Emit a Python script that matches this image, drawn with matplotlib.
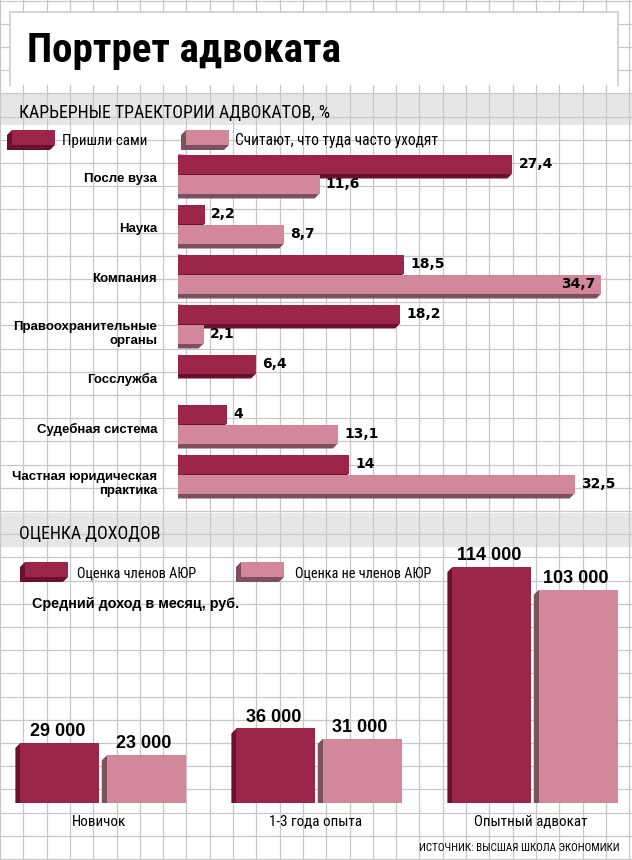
import numpy as np
import matplotlib
matplotlib.use('Agg')
import matplotlib.pyplot as plt
from matplotlib.patches import Polygon, Rectangle

# --- data ---
career_cats = ['После вуза', 'Наука', 'Компания', 'Правоохранительные\nорганы',
               'Госслужба', 'Судебная система', 'Частная юридическая\nпрактика']
came_self = [27.4, 2.2, 18.5, 18.2, 6.4, 4, 14]
often_leave = [11.6, 8.7, 34.7, 2.1, np.nan, 13.1, 32.5]

income_cats = ['Новичок', '1-3 года опыта', 'Опытный адвокат']
income_members = [29000, 36000, 114000]
income_others = [23000, 31000, 103000]

W, H = 632, 860
DARK, DARK_SIDE = '#9c2649', '#6a1030'
LIGHT, LIGHT_SIDE = '#d2889b', '#7e4f5f'
GRID = '#c8c8c8'
BAND = '#e5e6e5'
NARROW = dict(family=['Roboto Condensed', 'Liberation Sans Narrow', 'DejaVu Sans'],
              fontstretch='condensed')
SANS = ['Liberation Sans', 'DejaVu Sans']
VAL = ['DejaVu Sans']


def add_depth(ax, bar, color, d=5):
    # extrude the bar face down-left by d pixels
    x0, y0 = bar.get_x(), bar.get_y()
    pts = ax.transData.transform([(x0, y0), (x0 + bar.get_width(), y0 + bar.get_height())])
    left, right = sorted(pts[:, 0])
    bottom, top = sorted(pts[:, 1])
    poly = [(left, top), (left - d, top - d), (left - d, bottom - d),
            (right - d, bottom - d), (right, bottom)]
    ax.add_patch(Polygon(ax.transData.inverted().transform(poly), closed=True,
                         facecolor=color, edgecolor='none', zorder=bar.get_zorder() - 0.1))


def fmt(v):
    return f'{v:g}'.replace('.', ',')


fig = plt.figure(figsize=(W / 100, H / 100), dpi=100)

# background: grid paper, bands, title box, legends
bg = fig.add_axes([0, 0, 1, 1], zorder=0)
bg.set_xlim(0, W)
bg.set_ylim(H, 0)
bg.axis('off')

for x in np.arange(0, W + 1, 23.3):
    bg.axvline(x, color=GRID, lw=0.9, zorder=1)
for y in np.arange(0.5, H, 23.2):
    bg.axhline(y, color=GRID, lw=0.9, zorder=1)

bg.add_patch(Rectangle((0, 93), W, 32, facecolor=BAND, edgecolor='none', zorder=0.5))
bg.add_patch(Rectangle((0, 513), W, 34, facecolor=BAND, edgecolor='none', zorder=0.5))

bg.add_patch(Rectangle((10, 12), 608, 73, facecolor='white', edgecolor='none', zorder=2))
bg.plot([10, 10, 618, 618], [85, 12, 12, 85], color='#d6d6d6', lw=1.5, zorder=2.1)
bg.text(27, 62, 'Портрет адвоката', fontsize=29.5, fontweight='heavy',
        va='baseline', zorder=3, **NARROW)

bg.text(19, 118, 'КАРЬЕРНЫЕ ТРАЕКТОРИИ АДВОКАТОВ, %', fontsize=12.8,
        va='baseline', zorder=3, **NARROW)
bg.text(19, 539, 'ОЦЕНКА ДОХОДОВ', fontsize=12.8, va='baseline', zorder=3, **NARROW)

legend_items = [
    (12, 130, DARK, DARK_SIDE, 'Пришли сами', 62, 10.8),
    (186, 130, LIGHT, LIGHT_SIDE, 'Считают, что туда часто уходят', 235, 11.2),
    (25, 562, DARK, DARK_SIDE, 'Оценка членов АЮР', 77, 10.3),
    (241, 562, LIGHT, LIGHT_SIDE, 'Оценка не членов АЮР', 295, 10.3),
]
for sx, sy, face, side, label, tx, fs in legend_items:
    sw = Rectangle((sx, sy), 43, 15, facecolor=face, edgecolor='none', zorder=3)
    bg.add_patch(sw)
    add_depth(bg, sw, side)
    bg.text(tx, sy + 15, label, fontsize=fs, va='baseline', zorder=3, **NARROW)

bg.text(32, 608, 'Средний доход в месяц, руб.', fontsize=10.4, fontweight='bold',
        family=SANS, va='baseline', zorder=3)
bg.text(620, 851, 'ИСТОЧНИК: ВЫСШАЯ ШКОЛА ЭКОНОМИКИ', fontsize=8,
        ha='right', va='baseline', zorder=3, **NARROW)

# --- career chart ---
ax1 = fig.add_axes([178 / W, 1 - 510 / H, 447 / W, 360 / H], zorder=1)
ax1.set_xlim(0, 447 / 12.2)
ax1.set_ylim(6.72, -0.48)
ax1.axis('off')

idx = np.arange(len(career_cats))
bars_a = ax1.barh(idx - 0.2, came_self, height=0.38, color=DARK, zorder=3)
bars_b = ax1.barh(idx + 0.2, np.nan_to_num(often_leave), height=0.38, color=LIGHT, zorder=5)
for bar, v in zip(bars_a, came_self):
    add_depth(ax1, bar, DARK_SIDE)
for bar, v in zip(bars_b, often_leave):
    if np.isnan(v):
        bar.set_visible(False)
        continue
    add_depth(ax1, bar, LIGHT_SIDE)

xmax = ax1.get_xlim()[1]
for y0, vals in [(-0.2, came_self), (0.2, often_leave)]:
    for i, v in enumerate(vals):
        if np.isnan(v):
            continue
        inside = v > 0.9 * xmax
        ax1.annotate(fmt(v), xy=(v, i + y0), xytext=(-4 if inside else 4.5, 0),
                     textcoords='offset points', ha='right' if inside else 'left',
                     va='center', fontsize=10, fontweight='bold', family=VAL, zorder=6)

for i, name in enumerate(career_cats):
    extra = 0.1 * name.count('\n')
    ax1.annotate(name, xy=(0, i + 0.1 + extra), xytext=(-15, 0), textcoords='offset points',
                 ha='right', va='center', fontsize=9.5, fontweight='bold', family=SANS,
                 linespacing=1.15, annotation_clip=False)

# --- income chart ---
ax2 = fig.add_axes([0, 1 - 803 / H, 1, 263 / H], zorder=1)
ax2.set_xlim(-103 / 216, (W - 103) / 216)
ax2.set_ylim(0, 263 / 0.00207)
ax2.axis('off')

gx = np.arange(len(income_cats))
bars_m = ax2.bar(gx - 0.2, income_members, width=0.365, color=DARK, zorder=3)
bars_o = ax2.bar(gx + 0.2, income_others, width=0.365, color=LIGHT, zorder=5)
for bars, side in [(bars_m, DARK_SIDE), (bars_o, LIGHT_SIDE)]:
    for bar in bars:
        add_depth(ax2, bar, side)
        v = bar.get_height()
        ax2.annotate(f'{v:,.0f}'.replace(',', ' '), xy=(bar.get_x() + bar.get_width() / 2, v),
                     xytext=(-1.8, 5), textcoords='offset points', ha='center',
                     va='baseline', fontsize=13, fontweight='bold', family=SANS,
                     annotation_clip=False)

for g, name in zip(gx, income_cats):
    ax2.annotate(name, xy=(g - 0.018, 0), xytext=(0, -16.5), textcoords='offset points',
                 ha='center', va='baseline', fontsize=10.8,
                 annotation_clip=False, **NARROW)

fig.savefig('out.png', dpi=100)
